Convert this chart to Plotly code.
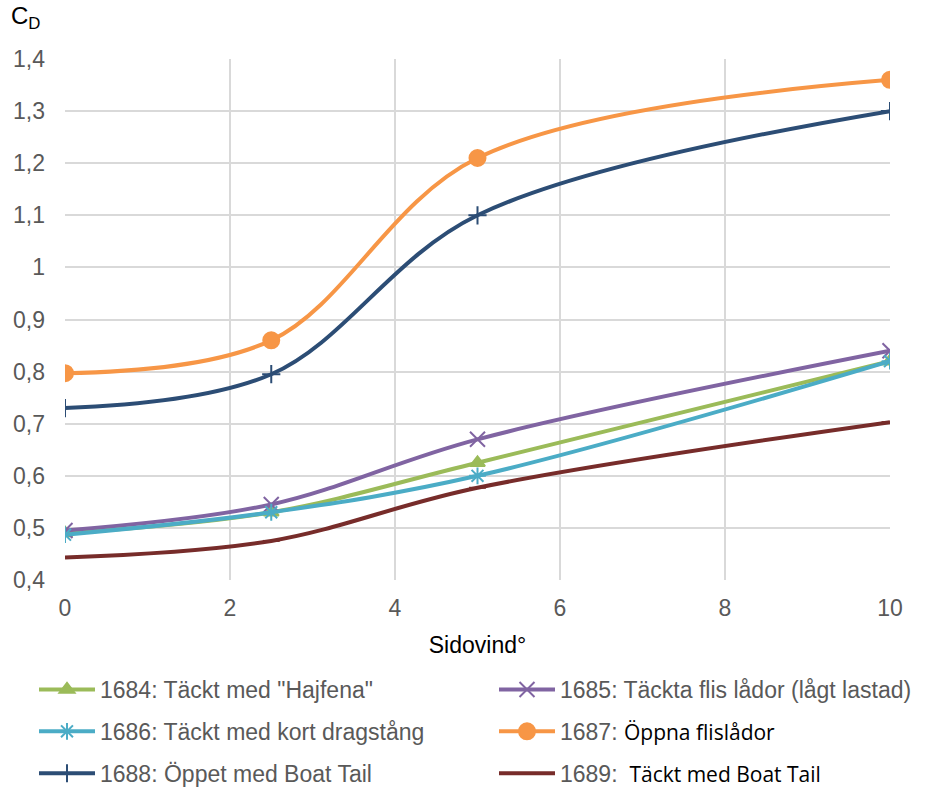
import plotly.graph_objects as go

x_vals = [0, 2.5, 5, 10]
s1684 = [0.490, 0.530, 0.625, 0.820]
s1685 = [0.495, 0.545, 0.670, 0.840]
s1686 = [0.487, 0.530, 0.600, 0.820]
s1687 = [0.797, 0.860, 1.210, 1.360]
s1688 = [0.730, 0.795, 1.100, 1.300]
s1689 = [0.443, 0.475, 0.577, 0.703]

GRAY = "#595959"
ALT = "<span style='font-family:\"Open Sans\";color:#000000;font-size:21px'>"

names = [
    '1684: Täckt med "Hajfena"',
    '1685: Täckta flis lådor (lågt lastad)',
    '1686: Täckt med kort dragstång',
    '1687: ' + ALT + 'Öppna flislådor</span>',
    '1688: Öppet med Boat Tail',
    '1689: ' + ALT + ' Täckt med Boat Tail</span>',
]
series = [s1684, s1685, s1686, s1687, s1688, s1689]
colors = ["#9BBB59", "#8064A2", "#4BACC6", "#F79646", "#2C4D75", "#772C2A"]
symbols = ["triangle-up", "x-thin-open", "asterisk-open", "circle", "cross-thin-open", "line-ew-open"]
sizes = [13, 15, 14, 16, 13, 12]
legends = ["legend", "legend2", "legend", "legend2", "legend", "legend2"]

fig = go.Figure()
for i, (nm, ys, c, sym, sz, lg) in enumerate(zip(names, series, colors, symbols, sizes, legends)):
    fig.add_trace(go.Scatter(
        x=x_vals, y=ys, name=nm, mode="lines+markers",
        line=dict(color=c, width=4, shape="spline", smoothing=1.0),
        marker=dict(symbol=sym, size=sz, color=c, line=dict(color=c, width=2)),
        legend=lg, legendgroup="g%d" % i,
    ))

leg_common = dict(
    orientation="v", xref="container", yref="container",
    yanchor="top", xanchor="left", tracegroupgap=9,
    font=dict(family="Liberation Sans, Arial", size=23, color=GRAY),
    itemwidth=56, bgcolor="rgba(0,0,0,0)",
)

fig.update_layout(
    width=931, height=788,
    margin=dict(l=65, r=41, t=59, b=208, autoexpand=False),
    plot_bgcolor="white", paper_bgcolor="white",
    separators=",.",
    font=dict(family="Liberation Sans, Arial", size=23, color=GRAY),
    xaxis=dict(range=[0, 10], dtick=2, tick0=0, showgrid=True, gridcolor="#D9D9D9", gridwidth=1.5,
               zeroline=False, showline=False, ticks="", ticklabelstandoff=12,
               title=dict(text="Sidovind°", font=dict(size=23, color="#000000"), standoff=16)),
    yaxis=dict(range=[0.4, 1.4], dtick=0.1, tick0=0.4, showgrid=True, gridcolor="#D9D9D9", gridwidth=1.5,
               zeroline=False, showline=False, ticks="", ticklabelstandoff=19),
    legend=dict(x=34/931, y=1 - 668/788, **leg_common),
    legend2=dict(x=494/931, y=1 - 668/788, **leg_common),
    annotations=[dict(text="C<sub>D</sub>", xref="paper", yref="paper",
                      x=-0.068, y=1.08, xanchor="left", yanchor="middle",
                      showarrow=False, font=dict(size=24, color="#000000"))],
)

fig.write_html("out.html")
